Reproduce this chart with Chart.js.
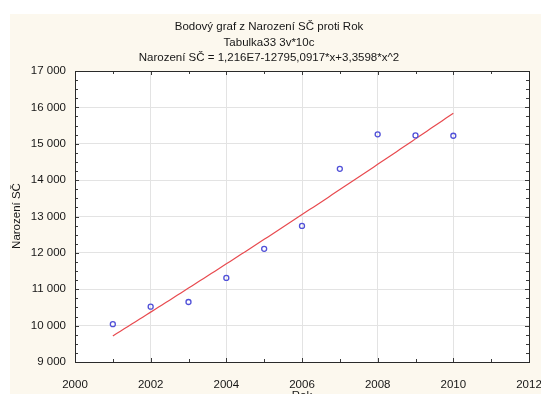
<!DOCTYPE html>
<html>
<head>
<meta charset="utf-8">
<script src="https://cdn.jsdelivr.net/npm/chart.js@4.4.1/dist/chart.umd.min.js"></script>
<style>
  html, body { margin: 0; padding: 0; background: #ffffff; }
  canvas { display: block; }
</style>
</head>
<body>
<canvas id="c" width="541" height="394"></canvas>
<script>
// Live births in the Central Bohemian region by year
const years = [2001, 2002, 2003, 2004, 2005, 2006, 2007, 2008, 2009, 2010];
const births = [10040, 10520, 10650, 11310, 12110, 12740, 14310, 15260, 15230, 15220];

const titleLines = [
  'Bodový graf z Narození SČ proti Rok',
  'Tabulka33 3v*10c',
  'Narození SČ = 1,216E7-12795,0917*x+3,3598*x^2'
];
const xTitle = 'Rok';
const yTitle = 'Narození SČ';

const FONT = '"Liberation Sans", Arial, sans-serif';

// Quadratic least-squares fit of births against year (centred years for stability)
function quadFit(xs, ys) {
  const m = xs.reduce((a, b) => a + b, 0) / xs.length;
  let S = [0, 0, 0, 0, 0], T = [0, 0, 0];
  xs.forEach((x0, i) => {
    const x = x0 - m;
    for (let k = 0; k < 5; k++) S[k] += Math.pow(x, k);
    for (let k = 0; k < 3; k++) T[k] += ys[i] * Math.pow(x, k);
  });
  const A = [[S[0], S[1], S[2]], [S[1], S[2], S[3]], [S[2], S[3], S[4]]];
  const det = M => M[0][0]*(M[1][1]*M[2][2]-M[1][2]*M[2][1]) - M[0][1]*(M[1][0]*M[2][2]-M[1][2]*M[2][0]) + M[0][2]*(M[1][0]*M[2][1]-M[1][1]*M[2][0]);
  const D = det(A);
  const coef = [0, 1, 2].map(j => det(A.map((row, r) => row.map((v, c) => c === j ? T[r] : v))) / D);
  return x => { const t = x - m; return coef[0] + coef[1]*t + coef[2]*t*t; };
}
const fit = quadFit(years, births);
const fitLine = [];
for (let i = 0; i <= 90; i++) {
  const x = years[0] + i * (years[years.length - 1] - years[0]) / 90;
  fitLine.push({ x: x, y: fit(x) });
}

const spaced = v => String(v).replace(/\B(?=(\d{3})+(?!\d))/g, ' ');

// Paper background, white plot area, frame, inward ticks and texts
const frame = {
  id: 'frame',
  beforeDraw(chart) {
    const { ctx, chartArea: a, width, height } = chart;
    ctx.save();
    ctx.fillStyle = '#ffffff';
    ctx.fillRect(0, 0, width, height);
    ctx.fillStyle = '#fcf8ee';
    ctx.fillRect(10, 14, width - 10, height - 14);
    ctx.fillStyle = '#ffffff';
    ctx.fillRect(a.left, a.top, a.right - a.left, a.bottom - a.top);
    ctx.restore();
  },
  afterDraw(chart) {
    const { ctx, chartArea: a } = chart;
    const xs = chart.scales.x, ys = chart.scales.y;
    ctx.save();
    ctx.strokeStyle = '#3a3a3a';
    ctx.lineWidth = 1;
    ctx.beginPath();
    // ticks along x every year
    for (let v = xs.min; v <= xs.max; v += 1) {
      const px = Math.round(xs.getPixelForValue(v)) + 0.5;
      const len = (v % 2 === 0) ? 4 : 3;
      ctx.moveTo(px, a.bottom); ctx.lineTo(px, a.bottom - len);
      ctx.moveTo(px, a.top); ctx.lineTo(px, a.top + len);
    }
    // ticks along y every 250
    for (let v = ys.min; v <= ys.max; v += 250) {
      const py = Math.round(ys.getPixelForValue(v)) + 0.5;
      const len = (v % 1000 === 0) ? 4 : 3;
      ctx.moveTo(a.left, py); ctx.lineTo(a.left + len, py);
      ctx.moveTo(a.right, py); ctx.lineTo(a.right - len, py);
    }
    ctx.stroke();
    ctx.strokeStyle = '#2a2a2a';
    ctx.strokeRect(Math.round(a.left) + 0.5, Math.round(a.top) + 0.5,
                   Math.round(a.right - a.left), Math.round(a.bottom - a.top));

    ctx.fillStyle = '#161616';
    ctx.font = '11.5px ' + FONT;
    ctx.textAlign = 'center';
    ctx.textBaseline = 'middle';
    const tys = [27, 43, 58];
    titleLines.forEach((t, i) => ctx.fillText(t, 269, tys[i]));
    ctx.fillText(xTitle, (a.left + a.right) / 2, 396);
    ctx.translate(17, 216);
    ctx.rotate(-Math.PI / 2);
    ctx.fillText(yTitle, 0, 0);
    ctx.restore();
  }
};

new Chart(document.getElementById('c'), {
  type: 'scatter',
  data: {
    datasets: [
      {
        type: 'line',
        label: 'fit',
        data: fitLine,
        borderColor: '#e84a4f',
        borderWidth: 1.2,
        pointRadius: 0,
        fill: false,
        tension: 0,
        order: 2
      },
      {
        label: yTitle,
        data: years.map((y, i) => ({ x: y, y: births[i] })),
        pointStyle: 'circle',
        pointRadius: 2.5,
        borderColor: '#5050d8',
        borderWidth: 1.3,
        backgroundColor: 'rgba(255,255,255,0)',
        order: 1
      }
    ]
  },
  options: {
    responsive: false,
    animation: false,
    events: [],
    layout: { padding: { top: 71, right: 12, left: 0, bottom: 0 } },
    plugins: { legend: { display: false }, tooltip: { enabled: false }, title: { display: false } },
    scales: {
      x: {
        type: 'linear',
        min: 2000, max: 2012,
        afterFit: s => { s.height = 32; s.paddingLeft = 0; s.paddingRight = 0; },
        border: { display: false },
        grid: { color: '#e3e3e3', drawTicks: false, lineWidth: 1 },
        ticks: {
          stepSize: 2, autoSkip: false, maxRotation: 0,
          padding: 16, color: '#161616',
          font: { family: FONT, size: 11.5 },
          callback: v => String(v)
        }
      },
      y: {
        min: 9000, max: 17000,
        afterFit: s => { s.width = 75; s.paddingTop = 0; s.paddingBottom = 0; },
        border: { display: false },
        grid: { color: '#e3e3e3', drawTicks: false, lineWidth: 1 },
        ticks: {
          stepSize: 1000, padding: 9, color: '#161616',
          font: { family: FONT, size: 11.5 },
          callback: v => spaced(v)
        }
      }
    }
  },
  plugins: [frame]
});
</script>
</body>
</html>
